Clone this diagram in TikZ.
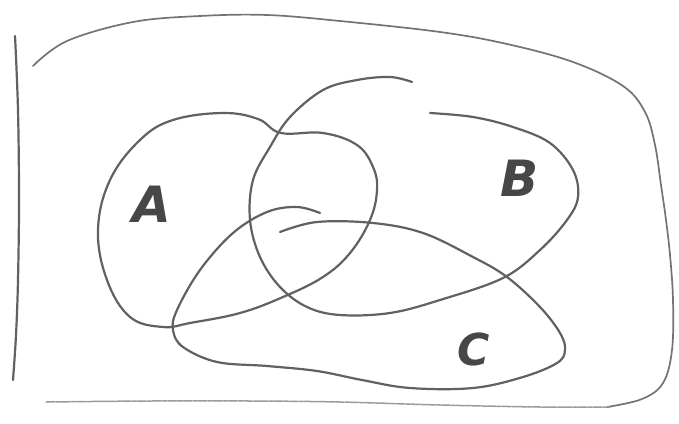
\documentclass[tikz,border=0pt]{standalone}
\usepackage{fontspec}
\newfontfamily\handfont{DejaVu Sans}
\begin{document}
\begin{tikzpicture}[x=1pt,y=-1pt,
  stroke/.style={draw=black!62, line width=2.2pt, line cap=round, line join=round},
  thin stroke/.style={draw=black!55, line width=1.7pt, line cap=round, line join=round},
  faint/.style={draw=black!40, line width=1.5pt, line cap=round, dash pattern=on 9pt off 1.2pt on 4pt off 1pt},
  lbl/.style={font=\handfont\bfseries\itshape\fontsize{50}{50}\selectfont, text=black!72, inner sep=0pt}]
\useasboundingbox (0,0) rectangle (679,423);
% frame
\draw[stroke] plot[smooth, tension=0.6] coordinates {(15,36) (18,110) (19,200) (18,280) (16,335) (13,380)};
\draw[thin stroke] plot[smooth, tension=0.6] coordinates {(33,66) (67,41) (133,22) (200,16) (267,15) (340,21) (440,32) (507,44) (573,62) (623,86) (645,112) (655,145) (661,185) (666,220) (670,255) (673,300) (672,350) (663,383) (642,399) (607,407)};
\draw[faint] plot[smooth, tension=0.6] coordinates {(46,402) (150,401) (250,401) (340,402) (440,405) (540,407) (610,407)};
% set A
\draw[stroke] plot[smooth cycle, tension=0.65] coordinates {(223,113) (258,119) (281,133) (323,133) (357,145) (373,167) (377,190) (370,220) (350,253) (323,277) (283,297) (240,313) (190,323) (163,327) (130,317) (107,280) (98,230) (110,180) (140,140) (173,120)};
% set B
\draw[stroke] plot[smooth, tension=0.6] coordinates {(412,82) (390,77) (357,80) (323,90) (290,117) (270,147) (253,180) (250,220) (260,257) (280,287) (307,307) (340,315) (390,313) (440,300) (503,278) (540,250) (567,220) (578,197) (573,170) (550,143) (513,127) (473,117) (430,113)};
% set C
\draw[stroke] plot[smooth, tension=0.6] coordinates {(320,213) (297,207) (267,212) (233,233) (200,270) (177,310) (173,330) (183,347) (217,362) (267,366) (317,371) (362,380) (410,388) (473,388) (523,377) (557,363) (565,350) (560,333) (540,307) (507,277) (473,257) (423,233) (373,223) (317,222) (280,232)};
% labels
\node[lbl] (la) at (152,204) {A};
\node[lbl] (lb) at (520,178) {B};
\node[lbl, font=\handfont\bfseries\itshape\fontsize{44}{44}\selectfont] (lc) at (474,349) {C};
\end{tikzpicture}
\end{document}
